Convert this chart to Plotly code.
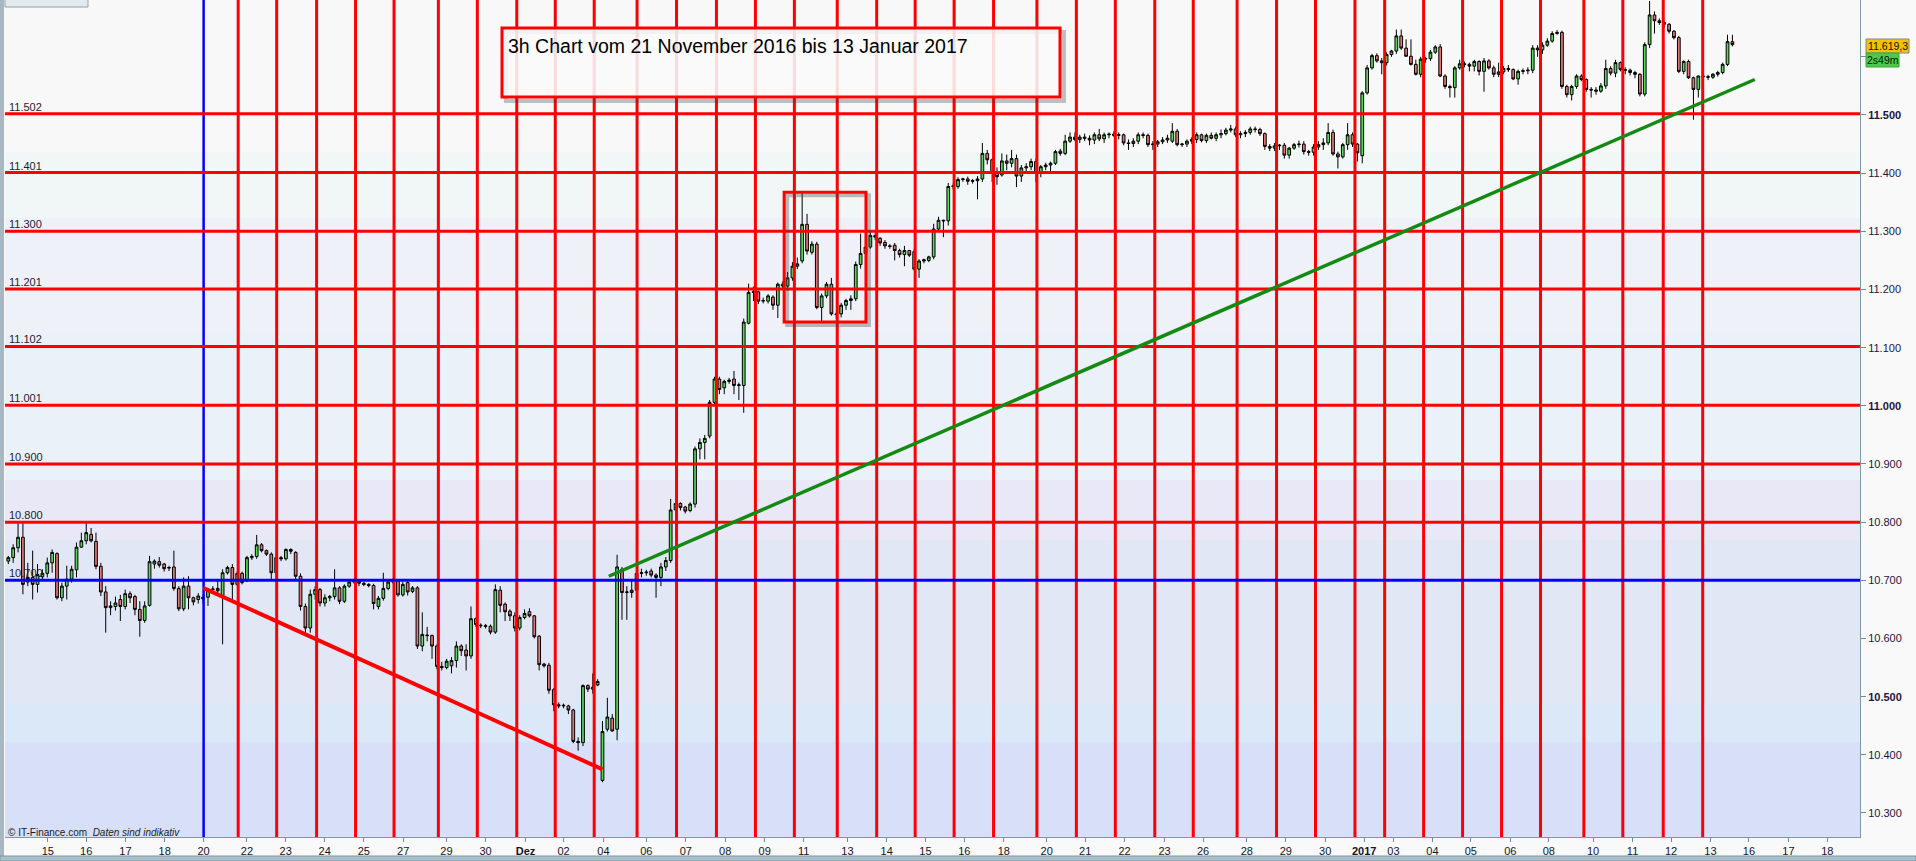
import plotly.graph_objects as go

# ---------------- data (DAX, 3h candles, 21 Nov 2016 - 13 Jan 2017) ----------------
open_ = [
 10733,10739,10756,10774,10697,10705,10693,10706,10712,10730,
 10746,10670,10690,10702,10718,10757,10768,10779,10767,10724,
 10680,10653,10655,10667,10655,10677,10672,10650,10631,10657,
 10728,10732,10728,10721,10723,10686,10651,10690,10670,10667,
 10668,10671,10684,10686,10674,10713,10722,10693,10712,10699,
 10739,10741,10761,10751,10745,10713,10739,10737,10753,10748,
 10707,10655,10618,10676,10684,10661,10670,10672,10687,10664,
 10690,10697,10699,10695,10693,10691,10655,10669,10686,10697,
 10699,10675,10696,10681,10687,10587,10606,10605,10587,10552,
 10550,10553,10562,10587,10580,10570,10634,10623,10622,10621,
 10611,10683,10659,10647,10639,10618,10636,10646,10639,10604,
 10556,10554,10512,10486,10484,10484,10477,10423,10421,10519,
 10513,10520,10356,10444,10463,10444,10719,10679,10679,10683,
 10712,10713,10716,10709,10705,10723,10734,10821,10832,10826,
 10820,10831,10926,10937,10948,11006,11046,11031,11042,11046,
 11035,11035,11142,11195,11196,11180,11180,11187,11173,11209,
 11206,11220,11240,11249,11312,11264,11278,11169,11189,11209,
 11158,11158,11173,11181,11184,11243,11262,11273,11293,11288,
 11281,11275,11276,11267,11260,11267,11265,11235,11249,11250,
 11256,11304,11319,11318,11377,11377,11389,11390,11386,11387,
 11390,11434,11423,11400,11397,11421,11417,11425,11395,11409,
 11411,11420,11400,11411,11414,11417,11438,11434,11455,11462,
 11458,11462,11460,11457,11466,11459,11466,11467,11465,11466,
 11452,11451,11455,11466,11465,11449,11450,11454,11457,11455,
 11472,11449,11450,11455,11458,11466,11456,11465,11460,11466,
 11468,11474,11476,11466,11468,11470,11476,11475,11468,11446,
 11443,11447,11448,11431,11443,11449,11450,11437,11436,11445,
 11449,11452,11470,11433,11428,11449,11466,11450,11430,11538,
 11581,11602,11593,11590,11604,11610,11636,11615,11601,11587,
 11570,11596,11597,11608,11617,11567,11549,11547,11581,11588,
 11587,11584,11592,11575,11593,11581,11570,11574,11580,11578,
 11562,11575,11576,11577,11615,11612,11620,11627,11640,11642,
 11549,11535,11549,11567,11561,11544,11543,11541,11550,11580,
 11572,11590,11578,11577,11573,11570,11536,11621,11672,11662,
 11659,11656,11644,11633,11575,11592,11564,11544,11567,11566,
 11565,11570,11573,11587,11626]
high_ = [
 10742,10762,10798,10798,10730,10751,10728,10719,10739,10753,
 10748,10696,10725,10725,10765,10782,10798,10790,10782,10730,
 10690,10664,10672,10675,10684,10681,10675,10664,10664,10742,
 10736,10740,10730,10725,10751,10690,10705,10707,10672,10678,
 10676,10687,10690,10700,10719,10725,10728,10716,10715,10742,
 10745,10778,10764,10753,10748,10745,10742,10755,10755,10750,
 10712,10660,10684,10690,10687,10676,10675,10719,10690,10693,
 10700,10702,10702,10697,10695,10694,10673,10713,10700,10703,
 10702,10697,10699,10690,10690,10645,10620,10607,10590,10560,
 10565,10568,10595,10590,10590,10655,10636,10626,10625,10624,
 10693,10690,10662,10650,10645,10640,10650,10652,10640,10606,
 10558,10558,10515,10490,10488,10486,10479,10430,10521,10521,
 10540,10530,10458,10498,10470,10744,10723,10690,10700,10720,
 10720,10718,10720,10712,10730,10740,10840,10835,10834,10828,
 10834,10930,10944,10950,11010,11050,11050,11045,11048,11060,
 11040,11150,11210,11205,11198,11186,11192,11190,11212,11214,
 11230,11247,11255,11366,11330,11283,11282,11193,11213,11220,
 11160,11177,11184,11190,11248,11296,11285,11300,11297,11290,
 11285,11278,11280,11270,11275,11268,11270,11252,11253,11258,
 11313,11325,11320,11383,11382,11393,11392,11394,11390,11395,
 11452,11440,11425,11410,11434,11432,11440,11432,11414,11417,
 11425,11425,11414,11418,11420,11440,11442,11466,11470,11470,
 11466,11468,11465,11470,11476,11470,11470,11472,11470,11468,
 11458,11460,11470,11470,11468,11455,11457,11462,11466,11486,
 11476,11452,11458,11462,11470,11468,11468,11470,11470,11475,
 11478,11483,11480,11472,11474,11480,11480,11478,11470,11450,
 11452,11450,11452,11445,11452,11456,11455,11440,11450,11455,
 11460,11486,11475,11437,11452,11486,11470,11452,11541,11586,
 11605,11606,11598,11608,11612,11647,11647,11630,11630,11595,
 11600,11600,11612,11620,11622,11570,11552,11584,11595,11592,
 11590,11595,11594,11598,11596,11585,11590,11584,11586,11580,
 11578,11580,11582,11620,11620,11625,11632,11644,11646,11645,
 11552,11552,11570,11570,11563,11548,11548,11555,11595,11584,
 11595,11592,11582,11580,11576,11572,11625,11696,11678,11666,
 11662,11658,11646,11636,11594,11595,11566,11568,11570,11569,
 11572,11576,11590,11638,11638]
low_ = [
 10728,10730,10748,10676,10690,10667,10679,10702,10705,10713,
 10667,10664,10667,10696,10705,10756,10762,10765,10719,10673,
 10610,10640,10648,10630,10650,10661,10640,10603,10627,10655,
 10720,10722,10715,10716,10682,10647,10647,10650,10657,10660,
 10660,10656,10680,10678,10590,10710,10667,10690,10693,10697,
 10735,10737,10748,10742,10700,10705,10733,10734,10745,10700,
 10648,10606,10610,10667,10655,10655,10664,10667,10659,10661,
 10687,10694,10690,10690,10688,10650,10650,10665,10683,10694,
 10672,10672,10674,10678,10582,10578,10595,10565,10547,10545,
 10547,10540,10550,10570,10545,10565,10620,10618,10617,10607,
 10608,10645,10630,10630,10612,10614,10633,10636,10600,10545,
 10550,10505,10475,10480,10480,10470,10420,10407,10415,10508,
 10505,10518,10353,10440,10440,10425,10632,10632,10670,10670,
 10705,10708,10705,10670,10690,10716,10730,10815,10820,10815,
 10817,10825,10908,10908,10944,11002,11020,11020,11038,11020,
 11010,10988,11140,11180,11175,11176,11176,11165,11151,11200,
 11198,11215,11235,11245,11260,11260,11166,11145,11185,11155,
 11150,11152,11165,11165,11180,11236,11260,11270,11285,11275,
 11270,11270,11250,11255,11240,11256,11232,11220,11245,11247,
 11252,11300,11290,11310,11372,11373,11385,11380,11382,11355,
 11385,11415,11385,11380,11394,11405,11410,11376,11385,11400,
 11405,11385,11393,11405,11400,11414,11430,11431,11452,11455,
 11452,11455,11448,11450,11455,11452,11460,11462,11458,11448,
 11440,11445,11450,11460,11445,11440,11445,11450,11452,11452,
 11446,11445,11445,11450,11452,11453,11452,11458,11455,11460,
 11465,11470,11462,11460,11462,11466,11470,11464,11440,11438,
 11438,11440,11425,11425,11440,11444,11432,11430,11430,11440,
 11440,11448,11430,11408,11425,11440,11445,11420,11417,11535,
 11578,11590,11570,11585,11600,11605,11612,11600,11585,11568,
 11565,11590,11593,11605,11565,11545,11530,11530,11578,11582,
 11575,11575,11568,11540,11578,11565,11565,11570,11574,11560,
 11552,11570,11570,11572,11600,11605,11617,11624,11638,11545,
 11530,11525,11545,11558,11540,11530,11535,11538,11545,11568,
 11565,11575,11570,11568,11563,11532,11532,11615,11640,11655,
 11650,11640,11630,11572,11570,11562,11492,11530,11562,11560,
 11562,11566,11570,11584,11618]
close_ = [
 10739,10756,10774,10693,10705,10693,10710,10712,10730,10748,
 10670,10690,10702,10719,10757,10768,10782,10768,10724,10680,
 10653,10656,10661,10655,10677,10670,10650,10631,10656,10732,
 10733,10726,10720,10722,10686,10651,10690,10670,10663,10673,
 10671,10684,10685,10682,10713,10722,10693,10712,10696,10739,
 10741,10761,10751,10745,10713,10739,10737,10753,10750,10707,
 10655,10618,10676,10684,10661,10670,10672,10687,10664,10690,
 10697,10699,10695,10693,10691,10660,10669,10686,10697,10699,
 10675,10693,10680,10687,10587,10607,10605,10587,10552,10550,
 10561,10562,10587,10579,10570,10634,10624,10622,10621,10611,
 10684,10657,10646,10639,10618,10636,10643,10639,10603,10555,
 10553,10511,10486,10484,10485,10477,10423,10421,10519,10513,
 10516,10526,10440,10465,10441,10723,10679,10680,10683,10712,
 10713,10714,10709,10705,10723,10734,10821,10832,10825,10819,
 10831,10926,10937,10944,11006,11046,11028,11042,11044,11035,
 11036,11144,11195,11196,11180,11181,11189,11173,11209,11206,
 11220,11240,11244,11312,11266,11278,11169,11189,11209,11158,
 11157,11173,11181,11184,11243,11262,11273,11293,11290,11280,
 11275,11274,11267,11260,11267,11259,11235,11249,11251,11256,
 11304,11319,11318,11377,11378,11389,11390,11386,11387,11390,
 11434,11423,11400,11394,11421,11417,11425,11395,11409,11411,
 11420,11400,11411,11414,11417,11437,11434,11455,11462,11458,
 11462,11460,11457,11466,11459,11466,11467,11465,11466,11452,
 11451,11455,11466,11465,11449,11450,11454,11457,11460,11472,
 11449,11450,11455,11458,11466,11456,11465,11460,11466,11468,
 11474,11476,11466,11468,11470,11476,11475,11468,11446,11443,
 11447,11448,11431,11443,11449,11450,11437,11436,11445,11449,
 11452,11470,11433,11428,11449,11466,11450,11435,11538,11581,
 11602,11593,11590,11604,11610,11636,11615,11601,11587,11570,
 11596,11597,11608,11617,11567,11549,11547,11581,11588,11587,
 11584,11592,11575,11593,11581,11570,11574,11580,11578,11562,
 11575,11576,11577,11615,11612,11620,11627,11640,11642,11549,
 11535,11549,11567,11561,11544,11543,11541,11550,11580,11572,
 11590,11578,11577,11573,11570,11536,11621,11672,11662,11659,
 11656,11644,11633,11575,11592,11564,11544,11567,11566,11565,
 11570,11573,11587,11626,11621]
bar_index = list(range(len(close_)))

# x-axis tick labels (positions in bar units)
x_tick_pos = [8.1, 16.0, 24.05, 32.1, 40.1, 49.0, 56.96, 64.95, 73.0, 81.07, 89.96, 98.0,
              106.2, 114.0, 122.2, 131.0, 139.1, 147.2, 155.3, 163.3, 172.3, 180.35, 188.3,
              196.3, 204.4, 213.2, 221.1, 229.2, 237.4, 245.3, 254.3, 262.3, 270.4, 278.4,
              284.4, 292.4, 300.3, 308.4, 316.3, 325.4, 333.5, 341.4, 349.5, 357.4, 365.5, 373.5]
x_tick_text = ["15", "16", "17", "18", "20", "22", "23", "24", "25", "27", "29", "30",
               "<b>Dez</b>", "02", "04", "06", "07", "08", "09", "11", "13", "14", "15",
               "16", "18", "20", "21", "22", "23", "26", "28", "29", "30", "<b>2017</b>",
               "03", "04", "05", "06", "08", "10", "11", "12", "13", "16", "17", "18"]

y_tick_vals = [10300, 10400, 10500, 10600, 10700, 10800, 10900, 11000, 11100, 11200, 11300, 11400, 11500, 11600]
y_tick_text = ["10.300", "10.400", "<b>10.500</b>", "10.600", "10.700", "10.800", "10.900",
               "<b>11.000</b>", "11.100", "11.200", "11.300", "11.400", "<b>11.500</b>", ""]

# drawn analysis objects
level_red = [11502, 11401, 11300, 11201, 11102, 11001, 10900, 10800]
level_red_text = ["11.502", "11.401", "11.300", "11.201", "11.102", "11.001", "10.900", "10.800"]
level_blue = 10700
level_blue_text = "10.700"
vline_red = [47.2, 55.1, 63.3, 71.3, 79.2, 88.3, 96.3, 104.4, 112.3, 120.3, 129.1, 137.2,
             145.4, 153.4, 161.4, 170.2, 178.3, 186.2, 194.2, 202.3, 211.2, 219.3, 227.3,
             235.4, 243.3, 252.3, 260.4, 268.4, 276.5, 282.6, 290.6, 298.6, 306.6, 314.6,
             323.5, 331.5, 339.8, 347.9]
vline_blue = 40.1
trend_red = ([40.0, 122.0], [10687, 10375])
trend_green = ([123.3, 358.6], [10707, 11561])
box_x = [159.3, 176.1]
box_y = [11144, 11367]

title_text = "3h Chart vom 21 November 2016 bis 13 Januar 2017"
last_price_text = "11.619,3"
countdown_text = "2s49m"
last_price = 11619

# ---------------- figure ----------------
W, H = 1916, 861
ML, MR, MT, MB = 5, 56, 0, 24
PW, PH = W - ML - MR, H - MT - MB
X_RANGE = [-0.68, 380.2]
Y_RANGE = [10258.7, 11697.7]
FONT = "Arial, Liberation Sans, sans-serif"

def px_x(px):      # pixel -> paper x
    return (px - ML) / PW

def px_y(py):      # pixel -> paper y
    return 1 - (py - MT) / PH

fig = go.Figure()
fig.add_trace(go.Candlestick(
    x=bar_index, open=open_, high=high_, low=low_, close=close_,
    increasing=dict(fillcolor="#55d855", line=dict(color="#000000", width=1)),
    decreasing=dict(fillcolor="#e27676", line=dict(color="#000000", width=1)),
    whiskerwidth=0, hoverinfo="skip", showlegend=False))

shapes = []
# background bands (pixel rows of the original)
bands = [(0, 152, "#f8f8f9"), (152, 218, "#f1f7f7"), (218, 333, "#eff1f9"),
         (333, 480, "#eaf1f9"), (480, 540, "#e8e8f6"), (540, 703, "#e2e7f6"),
         (703, 742, "#dbe8f7"), (742, 837, "#d7e0f8")]
for a, b, c in bands:
    shapes.append(dict(type="rect", xref="paper", yref="paper", x0=0, x1=1,
                       y0=px_y(b), y1=px_y(a), fillcolor=c, line=dict(width=0), layer="below"))

for xv in vline_red:
    shapes.append(dict(type="line", xref="x", yref="paper", x0=xv, x1=xv, y0=0, y1=1,
                       line=dict(color="#ff0000", width=3)))
shapes.append(dict(type="line", xref="x", yref="paper", x0=vline_blue, x1=vline_blue, y0=0, y1=1,
                   line=dict(color="#0000ff", width=2.5)))
for lv in level_red:
    shapes.append(dict(type="line", xref="paper", yref="y", x0=0, x1=1, y0=lv, y1=lv,
                       line=dict(color="#ff0000", width=3)))
shapes.append(dict(type="line", xref="paper", yref="y", x0=0, x1=1, y0=level_blue, y1=level_blue,
                   line=dict(color="#0000ff", width=3)))
shapes.append(dict(type="line", xref="x", yref="y", x0=trend_red[0][0], x1=trend_red[0][1],
                   y0=trend_red[1][0], y1=trend_red[1][1], line=dict(color="#ff0000", width=4)))
shapes.append(dict(type="line", xref="x", yref="y", x0=trend_green[0][0], x1=trend_green[0][1],
                   y0=trend_green[1][0], y1=trend_green[1][1], line=dict(color="#148a14", width=3.5)))

# red highlight rectangle with soft shadow
dx_bar = 3 / (PW / (X_RANGE[1] - X_RANGE[0]))
dy_pt = 3 / (PH / (Y_RANGE[1] - Y_RANGE[0]))
shapes.append(dict(type="rect", xref="x", yref="y", x0=box_x[0] + dx_bar, x1=box_x[1] + dx_bar,
                   y0=box_y[0] - dy_pt, y1=box_y[1] - dy_pt,
                   line=dict(color="rgba(70,70,70,0.35)", width=4)))
shapes.append(dict(type="rect", xref="x", yref="y", x0=box_x[0], x1=box_x[1],
                   y0=box_y[0], y1=box_y[1], line=dict(color="#ff0000", width=3)))

# title box with shadow
tb = (502, 28, 1060, 97)
shapes.append(dict(type="rect", xref="paper", yref="paper",
                   x0=px_x(tb[0] + 4), x1=px_x(tb[2] + 4), y0=px_y(tb[3] + 4), y1=px_y(tb[1] + 4),
                   line=dict(color="rgba(60,60,60,0.30)", width=4)))
shapes.append(dict(type="rect", xref="paper", yref="paper",
                   x0=px_x(tb[0]), x1=px_x(tb[2]), y0=px_y(tb[3]), y1=px_y(tb[1]),
                   fillcolor="rgba(249,249,251,0.88)", line=dict(color="#ff0000", width=3)))

# right side price tags
shapes.append(dict(type="rect", xref="paper", yref="paper", x0=px_x(1866), x1=px_x(1909),
                   y0=px_y(53), y1=px_y(39), fillcolor="#f4c200", line=dict(color="#7d8a94", width=1)))
shapes.append(dict(type="rect", xref="paper", yref="paper", x0=px_x(1866), x1=px_x(1899),
                   y0=px_y(67), y1=px_y(53), fillcolor="#4cc94c", line=dict(color="#3aa83a", width=1)))

# window chrome: toolbar tab, left border, bottom bar
shapes.append(dict(type="rect", xref="paper", yref="paper", x0=px_x(5), x1=px_x(88),
                   y0=px_y(7), y1=px_y(-2), fillcolor="#e3eaee", line=dict(color="#8ea2ae", width=1)))
shapes.append(dict(type="rect", xref="paper", yref="paper", x0=px_x(0), x1=px_x(4),
                   y0=px_y(861), y1=px_y(0), fillcolor="#a7b8c3", line=dict(width=0)))
shapes.append(dict(type="rect", xref="paper", yref="paper", x0=px_x(0), x1=px_x(1916),
                   y0=px_y(861), y1=px_y(856), fillcolor="#a9c0cc", line=dict(color="#7e95a2", width=1)))

annotations = []
for lv, tx in zip(level_red + [level_blue], level_red_text + [level_blue_text]):
    annotations.append(dict(xref="paper", yref="y", x=px_x(7), y=lv, text=tx, showarrow=False,
                            xanchor="left", yanchor="bottom", yshift=-1,
                            font=dict(family=FONT, size=11, color="#1c1c30")))
annotations.append(dict(xref="paper", yref="paper", x=px_x(506), y=px_y(46), text=title_text,
                        showarrow=False, xanchor="left", yanchor="middle",
                        font=dict(family=FONT, size=19.5, color="#000000")))
annotations.append(dict(xref="paper", yref="paper", x=px_x(6), y=px_y(832),
                        text="© IT-Finance.com  <i>Daten sind indikativ</i>", showarrow=False,
                        xanchor="left", yanchor="middle",
                        font=dict(family=FONT, size=10, color="#1a1a1a")))
annotations.append(dict(xref="paper", yref="paper", x=px_x(1887.5), y=px_y(46), text=last_price_text,
                        showarrow=False, xanchor="center", yanchor="middle",
                        font=dict(family=FONT, size=10.5, color="#111111")))
annotations.append(dict(xref="paper", yref="paper", x=px_x(1882.5), y=px_y(60), text=countdown_text,
                        showarrow=False, xanchor="center", yanchor="middle",
                        font=dict(family=FONT, size=10.5, color="#002200")))

fig.update_layout(
    width=W, height=H, autosize=False,
    margin=dict(l=ML, r=MR, t=MT, b=MB, pad=0),
    paper_bgcolor="#f9f9f9", plot_bgcolor="#f8f8f9",
    showlegend=False, hovermode=False, boxgap=0.2,
    shapes=shapes, annotations=annotations,
    font=dict(family=FONT, size=11, color="#1c1c30"),
)
fig.update_xaxes(
    range=X_RANGE, rangeslider=dict(visible=False), showgrid=False, zeroline=False,
    tickmode="array", tickvals=x_tick_pos, ticktext=x_tick_text,
    ticks="outside", ticklen=4, tickcolor="#6f8a99", showline=True, linecolor="#7f98a6",
    linewidth=1, tickfont=dict(family=FONT, size=11, color="#141428"), fixedrange=True)
fig.update_yaxes(
    range=Y_RANGE, side="right", showgrid=False, zeroline=False,
    tickmode="array", tickvals=y_tick_vals, ticktext=y_tick_text,
    ticks="outside", ticklen=5, tickcolor="#6f8a99", showline=True, linecolor="#7f98a6",
    linewidth=1, tickfont=dict(family=FONT, size=11, color="#24143c"), fixedrange=True)

fig.write_html(
    "out.html",
    config={"displayModeBar": False},
    post_script="document.body.style.margin='0px';document.body.style.padding='0px';"
                "document.body.style.overflow='hidden';",
)
